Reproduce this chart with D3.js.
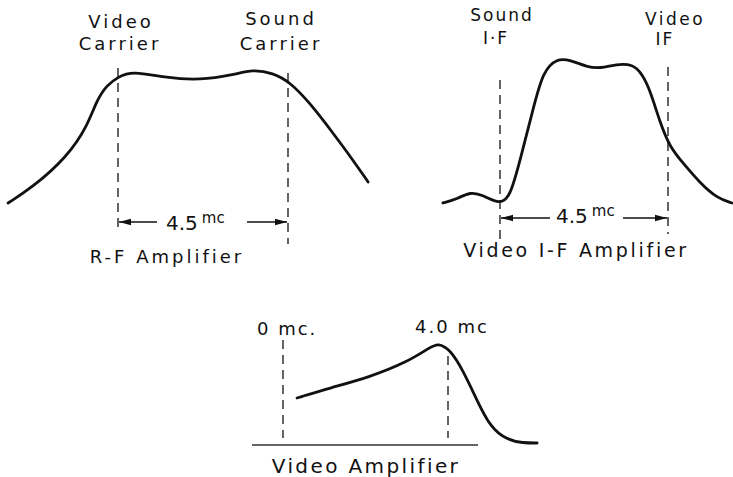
<!DOCTYPE html>
<meta charset="utf-8" />
<style>
  body { margin: 0; background: #fff; }
  svg text { font-family: "DejaVu Sans", sans-serif; fill: #111; }
</style>
<script src="https://d3js.org/d3.v7.min.js"></script>
<svg id="chart" width="733" height="477"></svg>
<script>
  // R-F amplifier response (mc from video carrier, relative response)
  const rfFreq = [-2.91, -2.25, -1.35, -0.82, -0.56, -0.29, 0, 0.37, 1.30, 2.17, 3.04, 3.57, 4.10, 4.55, 5.08, 5.69, 6.22, 6.62];
  const rfResp = [0.170, 0.270, 0.459, 0.648, 0.818, 0.912, 0.962, 1.0, 0.956, 0.943, 0.975, 1.01, 0.987, 0.931, 0.799, 0.610, 0.440, 0.302];

  // Video I-F amplifier response (mc from sound I-F)
  const ifFreq = [-1.53, -1.15, -0.80, -0.46, 0, 0.27, 0.54, 0.88, 1.15, 1.53, 1.88, 2.33, 2.68, 3.13, 3.56, 3.80, 4.02, 4.29, 4.55, 4.90, 5.36, 5.81, 6.21];
  const ifResp = [0.159, 0.182, 0.225, 0.206, 0.150, 0.194, 0.412, 0.706, 0.935, 1.01, 1.0, 0.959, 0.950, 0.976, 0.975, 0.920, 0.824, 0.629, 0.488, 0.394, 0.276, 0.188, 0.159];

  // Video amplifier response (mc)
  const vaFreq = [0.34, 1.14, 2.11, 3.01, 3.56, 3.76, 4.05, 4.36, 4.70, 5.02, 5.43, 5.82, 6.16];
  const vaResp = [0.465, 0.566, 0.677, 0.828, 0.975, 1.02, 0.955, 0.747, 0.444, 0.172, 0.040, 0.010, 0.010];

  const svg = d3.select('#chart');
  const ink = '#111';

  // arrowhead
  svg.append('defs').append('marker')
    .attr('id', 'arrow')
    .attr('viewBox', '0 0 12 8')
    .attr('refX', 12).attr('refY', 4)
    .attr('markerWidth', 12).attr('markerHeight', 8)
    .attr('markerUnits', 'userSpaceOnUse')
    .attr('orient', 'auto')
    .append('path')
    .attr('d', 'M0,0.8 L12,4 L0,7.2 Z')
    .attr('fill', ink);

  function drawCurve(freq, resp, x, y) {
    const pts = freq.map((f, i) => [x(f), y(resp[i])]);
    svg.append('path')
      .attr('d', d3.line().curve(d3.curveBasis)(pts))
      .attr('fill', 'none')
      .attr('stroke', ink)
      .attr('stroke-width', 2.8)
      .attr('stroke-linecap', 'round');
  }

  function dashed(xp, y1, y2) {
    svg.append('line')
      .attr('x1', xp).attr('x2', xp).attr('y1', y1).attr('y2', y2)
      .attr('stroke', ink).attr('stroke-width', 1.3)
      .attr('stroke-dasharray', '9,6');
  }

  function label(txt, xp, yp, size, spacing, anchor) {
    svg.append('text')
      .attr('x', xp).attr('y', yp)
      .attr('text-anchor', anchor || 'middle')
      .style('font-size', size + 'px')
      .style('letter-spacing', spacing + 'px')
      .text(txt);
  }

  // "<- 4.5 mc ->" between two dashed lines
  function span(xa, xb, yp, leftEnd, rightStart, tx, ty) {
    svg.append('line').attr('x1', leftEnd).attr('x2', xa + 1).attr('y1', yp).attr('y2', yp)
      .attr('stroke', ink).attr('stroke-width', 1.5).attr('marker-end', 'url(#arrow)');
    svg.append('line').attr('x1', rightStart).attr('x2', xb - 1).attr('y1', yp).attr('y2', yp)
      .attr('stroke', ink).attr('stroke-width', 1.5).attr('marker-end', 'url(#arrow)');
    const t = svg.append('text').attr('x', tx).attr('y', ty).style('font-size', '20px');
    t.append('tspan').text('4.5');
    t.append('tspan').attr('dx', 4).attr('dy', -7).style('font-size', '15px').text('mc');
  }

  // ---- R-F amplifier
  const x1 = d3.scaleLinear().domain([0, 4.5]).range([118, 288]);
  const y1 = d3.scaleLinear().domain([0, 1]).range([230, 71]);
  dashed(x1(0), 68, 232);
  dashed(x1(4.5), 73, 244);
  drawCurve(rfFreq, rfResp, x1, y1);
  label('Video', 121, 28, 18, 3);
  label('Carrier', 120, 50, 18, 3);
  label('Sound', 281, 25, 18, 3);
  label('Carrier', 281, 50, 18, 3);
  span(x1(0), x1(4.5), 222, 157, 247, 166, 230);
  label('R-F Amplifier', 167, 263, 18, 3);

  // ---- Video I-F amplifier
  const x2 = d3.scaleLinear().domain([0, 4.5]).range([500, 668]);
  const y2 = d3.scaleLinear().domain([0, 1]).range([230, 60]);
  dashed(x2(0), 80, 241);
  dashed(x2(4.5), 67, 234);
  drawCurve(ifFreq, ifResp, x2, y2);
  label('Sound', 502, 21, 17, 2);
  label('I·F', 496, 44, 17, 2);
  label('Video', 675, 25, 17, 2.5);
  label('IF', 665, 45, 17, 2);
  span(x2(0), x2(4.5), 218, 550, 623, 556, 223);
  label('Video I-F Amplifier', 576, 257, 19, 2.7);

  // ---- Video amplifier
  const x3 = d3.scaleLinear().domain([0, 4]).range([283, 448]);
  const y3 = d3.scaleLinear().domain([0, 1]).range([444, 345]);
  svg.append('line')
    .attr('x1', 252).attr('x2', 478).attr('y1', y3(0) + 1).attr('y2', y3(0) + 1)
    .attr('stroke', '#333').attr('stroke-width', 1.4);
  dashed(x3(0), 340, 438);
  dashed(x3(4), 356, 438);
  drawCurve(vaFreq, vaResp, x3, y3);
  label('0 mc.', 257, 335, 18, 2, 'start');
  label('4.0 mc', 452, 333, 18, 2);
  label('Video Amplifier', 366, 473, 20, 2.4);
</script>
